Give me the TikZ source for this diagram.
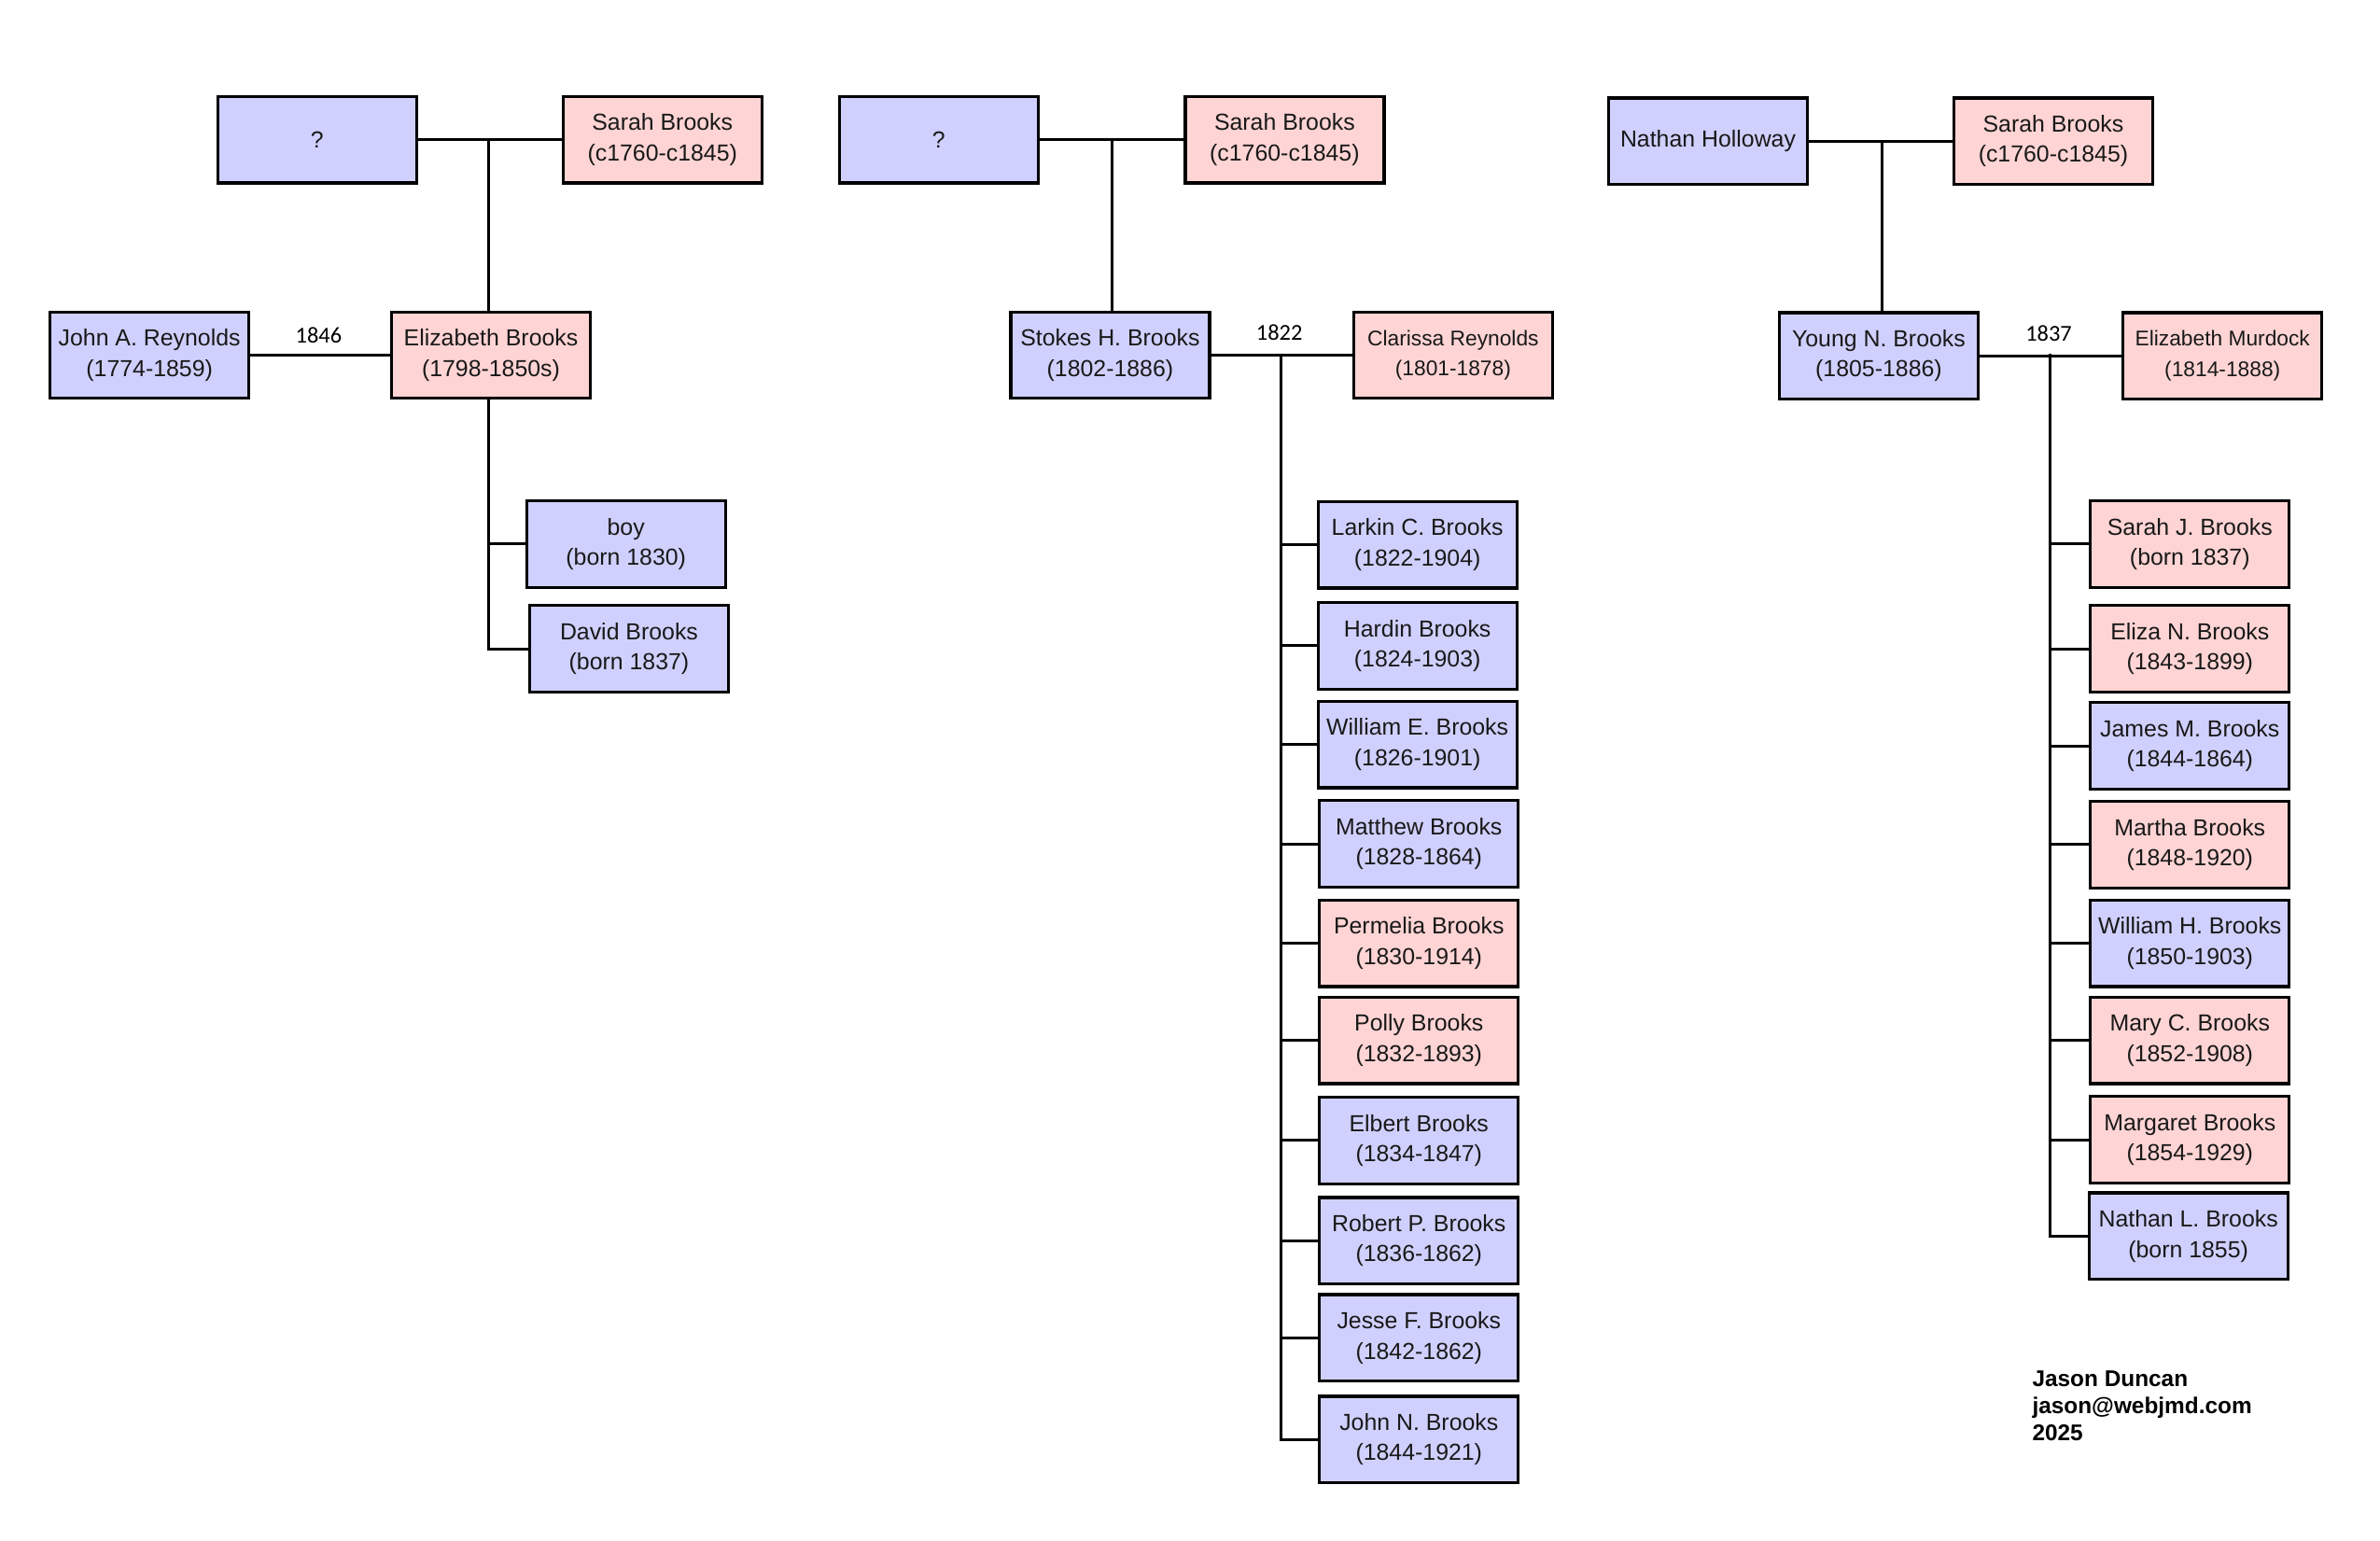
\documentclass[tikz,border=0pt]{standalone}
\usepackage{fontspec}
\setmainfont{Liberation Sans}
\newfontfamily\yearfont{Carlito}
\definecolor{maleblue}{RGB}{208,208,255}
\definecolor{femalepink}{RGB}{255,212,212}
\tikzset{
  person/.style={draw=black, line width=2pt, minimum width=131pt, minimum height=57pt,
    inner sep=0pt, align=center, font=\fontsize{15.3}{20}\selectfont, text=black!90},
  male/.style={person, fill=maleblue},
  female/.style={person, fill=femalepink},
  smalltext/.style={font=\fontsize{14}{20}\selectfont},
  link/.style={line width=1.8pt, black},
  yearlbl/.style={font=\yearfont\fontsize{15}{16}\selectfont, inner sep=0pt},
}
\begin{document}
\begin{tikzpicture}[x=1pt,y=-1pt]
\useasboundingbox (0,0) rectangle (1568.3,1014.8);
% ---------- left family ----------
\node[male] (q1) at (209,92) {?};
\node[female] (s1) at (436.5,92) {Sarah Brooks\\(c1760-c1845)};
\node[male] (john) at (98.5,234) {John A. Reynolds\\(1774-1859)};
\node[female] (eliz) at (323.5,234) {Elizabeth Brooks\\(1798-1850s)};
\node[male] (boy) at (412.5,358.5) {boy\\(born 1830)};
\node[male] (david) at (414.5,427.5) {David Brooks\\(born 1837)};
\coordinate (p1) at (322,92);
\draw[link] (q1.east) -- (s1.west);
\draw[link] (p1) -- (p1 |- eliz.north);
\draw[link] (john.east) -- (eliz.west);
\node[yearlbl] (y1) at (210,221) {1846};
\coordinate (c1) at (322,263);
\draw[link] (c1) |- (boy.west);
\draw[link] (c1) |- (david.west);
% ---------- middle family ----------
\node[male] (q2) at (618.5,92) {?};
\node[female] (s2) at (846.5,92) {Sarah Brooks\\(c1760-c1845)};
\node[male] (stokes) at (731.5,234) {Stokes H. Brooks\\(1802-1886)};
\node[female,smalltext] (clar) at (957.5,234) {Clarissa Reynolds\\(1801-1878)};
\coordinate (p2) at (733,92);
\draw[link] (q2.east) -- (s2.west);
\draw[link] (p2) -- (p2 |- stokes.north);
\draw[link] (stokes.east) -- (clar.west);
\node[yearlbl] (y2) at (843,219) {1822};
\coordinate (c2) at (844,233);
\node[male] (m1) at (934,359) {Larkin C. Brooks\\(1822-1904)};
\node[male] (m2) at (934,425.5) {Hardin Brooks\\(1824-1903)};
\node[male] (m3) at (934,490.5) {William E. Brooks\\(1826-1901)};
\node[male] (m4) at (935,556) {Matthew Brooks\\(1828-1864)};
\node[female] (m5) at (935,621.5) {Permelia Brooks\\(1830-1914)};
\node[female] (m6) at (935,685.5) {Polly Brooks\\(1832-1893)};
\node[male] (m7) at (935,751.5) {Elbert Brooks\\(1834-1847)};
\node[male] (m8) at (935,817.5) {Robert P. Brooks\\(1836-1862)};
\node[male] (m9) at (935,881.5) {Jesse F. Brooks\\(1842-1862)};
\node[male] (m10) at (935,948.5) {John N. Brooks\\(1844-1921)};
\foreach \k in {1,...,10}{\draw[link] (c2) |- (m\k.west);}
% ---------- right family ----------
\node[male] (nathan) at (1125.5,93) {Nathan Holloway};
\node[female] (s3) at (1353,93) {Sarah Brooks\\(c1760-c1845)};
\node[male] (young) at (1238,234.5) {Young N. Brooks\\(1805-1886)};
\node[female,smalltext] (murd) at (1464.5,234.5) {Elizabeth Murdock\\(1814-1888)};
\coordinate (p3) at (1240,93);
\draw[link] (nathan.east) -- (s3.west);
\draw[link] (p3) -- (p3 |- young.north);
\draw[link] (young.east) -- (murd.west);
\node[yearlbl] (y3) at (1350,220) {1837};
\coordinate (c3) at (1351,233);
\node[female] (r1) at (1443,358.5) {Sarah J. Brooks\\(born 1837)};
\node[female] (r2) at (1443,427.5) {Eliza N. Brooks\\(1843-1899)};
\node[male] (r3) at (1443,491.5) {James M. Brooks\\(1844-1864)};
\node[female] (r4) at (1443,556.5) {Martha Brooks\\(1848-1920)};
\node[male] (r5) at (1443,621.5) {William H. Brooks\\(1850-1903)};
\node[female] (r6) at (1443,685.5) {Mary C. Brooks\\(1852-1908)};
\node[female] (r7) at (1443,751) {Margaret Brooks\\(1854-1929)};
\node[male] (r8) at (1442,814.5) {Nathan L. Brooks\\(born 1855)};
\foreach \k in {1,...,8}{\draw[link] (c3) |- (r\k.west);}
% ---------- footer ----------
\node[anchor=north west, align=left, inner sep=0pt,
  font=\bfseries\fontsize{15}{18}\selectfont] (credit) at (1339,903)
  {Jason Duncan\\jason@webjmd.com\\2025};
\end{tikzpicture}
\end{document}
